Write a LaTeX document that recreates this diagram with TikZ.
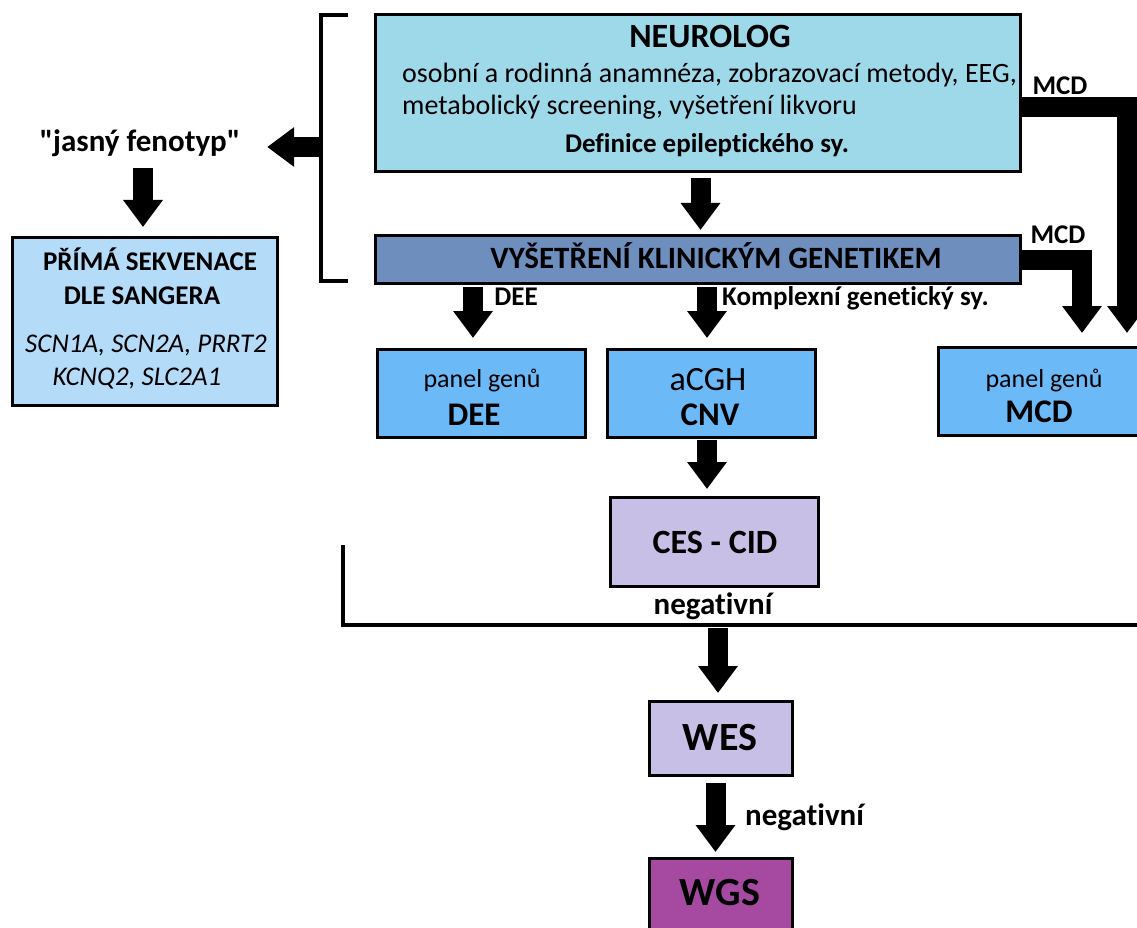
\documentclass[tikz,border=0pt]{standalone}
\usepackage{fontspec}
\setmainfont{Carlito}[Ligatures={TeXOff,CommonOff}]
\usetikzlibrary{arrows.meta}
\definecolor{cNeuro}{HTML}{9DD9E9}
\definecolor{cVys}{HTML}{6E8EBE}
\definecolor{cPrima}{HTML}{B4DBF7}
\definecolor{cPanel}{HTML}{6CB9F8}
\definecolor{cCes}{HTML}{C8BFE6}
\definecolor{cWgs}{HTML}{A54AA0}
\begin{document}
\begin{tikzpicture}[x=1pt,y=-1pt,
  box/.style={draw=black,line width=3pt,inner sep=0pt,outer sep=0pt},
  fat/.style={line width=20pt,-{Triangle[width=38pt,length=27pt]},line join=miter},
  txt/.style={inner sep=0pt,anchor=base},
  txtw/.style={inner sep=0pt,anchor=base west},
  bar/.style={line width=4pt,line join=miter},
  fs/.style={font=\fontsize{#1}{#1}\selectfont},
  fb/.style={font=\fontsize{#1}{#1}\selectfont\bfseries},
  fi/.style={font=\fontsize{#1}{#1}\selectfont\itshape}
]
\useasboundingbox (0,0) rectangle (1137,928);

% boxes
\node[box,fill=cNeuro,minimum width=645pt,minimum height=157pt] (neuro) at (697.5,93.5) {};
\node[box,fill=cVys,minimum width=645pt,minimum height=48pt] (vys) at (697.5,259) {};
\node[box,fill=cPrima,minimum width=265pt,minimum height=168pt] (prima) at (144.5,321) {};
\node[box,fill=cPanel,minimum width=208pt,minimum height=88pt] (dee) at (481,393) {};
\node[box,fill=cPanel,minimum width=208pt,minimum height=88pt] (cnv) at (711,393) {};
\node[box,fill=cPanel,minimum width=202pt,minimum height=88pt] (mcd) at (1039,391) {};
\node[box,fill=cCes,minimum width=208pt,minimum height=89pt] (ces) at (714,541.5) {};
\node[box,fill=cCes,minimum width=143pt,minimum height=74pt] (wes) at (720.5,738) {};
\node[box,fill=cWgs,minimum width=143pt,minimum height=78pt] (wgs) at (720.5,897) {};

% texts in boxes
\node[txt,fb=34] (tNeuro) at (710,48) {NEUROLOG};
\node[txtw,fs=28] (tN1) at (402,83) {osobní a rodinná anamnéza, zobrazovací metody, EEG,};
\node[txtw,fs=28] (tN2) at (402,115) {metabolický screening, vyšetření likvoru};
\node[txt,fb=27] (tN3) at (707,153) {Definice epileptického sy.};
\node[txt,fb=31] (tVys) at (716,268) {VYŠETŘENÍ KLINICKÝM GENETIKEM};
\node[txt,fb=27] (tP1) at (150,270) {PŘÍMÁ SEKVENACE};
\node[txt,fb=27] (tP2) at (142,304) {DLE SANGERA};
\node[txt,fi=27] (tP3) at (146,352) {SCN1A, SCN2A, PRRT2};
\node[txt,fi=27] (tP4) at (137,385) {KCNQ2, SLC2A1};
\node[txt,fs=26] (tD1) at (482,387) {panel genů};
\node[txt,fb=33] (tD2) at (474,425) {DEE};
\node[txt,fs=34] (tC1) at (708,390) {aCGH};
\node[txt,fb=33] (tC2) at (710,425) {CNV};
\node[txt,fs=26] (tM1) at (1044,387) {panel genů};
\node[txt,fb=33] (tM2) at (1039,422) {MCD};
\node[txt,fb=34] (tCes) at (715,553) {CES - CID};
\node[txt,fb=40] (tWes) at (720,750) {WES};
\node[txt,fb=40] (tWgs) at (720,905) {WGS};

% free labels
\node[inner sep=0pt,fb=31,text height=22pt,text depth=6pt,minimum width=254pt] (jasny) at (140,144) {"jasný fenotyp"};
\node[txt,fb=27] (lDee) at (516,305) {DEE};
\node[txtw,fb=27] (lKomp) at (722,305) {Komplexní genetický sy.};
\node[txt,fb=27] (lMcd1) at (1060,95) {MCD};
\node[txt,fb=27] (lMcd2) at (1058,243) {MCD};
\node[txt,fb=31] (lNeg1) at (713,614) {negativní};
\node[txtw,fb=31] (lNeg2) at (745,825) {negativní};

% brackets
\draw[bar] (348,15) -- (321,15) -- (321,281) -- (348,281);
\coordinate (brk) at (321,147);
\draw[bar] (343,545) -- (343,625) -- (1140,625);
\coordinate (negc) at (718,625);

% connectors
\draw[fat] (brk) -- (brk -| jasny.east);
\draw[fat,shorten <=10pt,shorten >=10pt] ([xshift=3pt]jasny.south) -- ([xshift=3pt]jasny.south |- prima.north);
\draw[fat,shorten <=6pt,shorten >=5pt] ([xshift=3pt]neuro.south) -- ([xshift=3pt]vys.north);
\draw[fat,shorten <=4pt,shorten >=11pt] ([xshift=-8pt]dee.north |- vys.south) -- ([xshift=-8pt]dee.north);
\draw[fat,shorten <=4pt,shorten >=11pt] ([xshift=-4pt]cnv.north |- vys.south) -- ([xshift=-4pt]cnv.north);
\draw[fat,shorten >=14pt] ([yshift=-14pt]neuro.east) -| ([xshift=88pt]mcd.north);
\draw[fat,shorten >=14pt] ([yshift=-1pt]vys.east) -| ([xshift=43pt]mcd.north);
\draw[fat,shorten <=3pt,shorten >=8pt] ([xshift=-4pt]cnv.south) -- ([xshift=-4pt]cnv.south |- ces.north);
\draw[fat,shorten <=3pt,shorten >=8pt] (negc) -- (negc |- wes.north);
\draw[fat,shorten <=8pt,shorten >=6pt] ([xshift=-5pt]wes.south) -- ([xshift=-5pt]wgs.north);
\end{tikzpicture}
\end{document}
